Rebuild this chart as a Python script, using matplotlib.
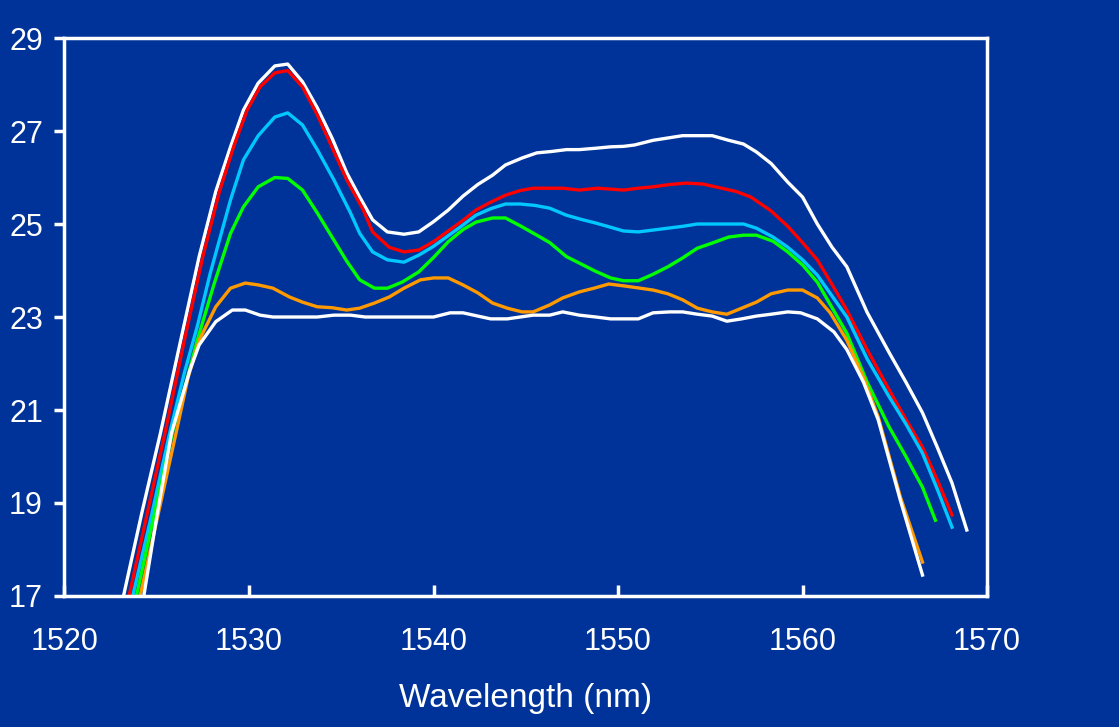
import matplotlib.pyplot as plt

# gain spectra, one trace per pump setting (wavelength in nm, gain in dB)
wl_top = [1523.2, 1524.2, 1525.2, 1526.3, 1527.3, 1528.2, 1529.0, 1529.7, 1530.5, 1531.4,
          1532.1, 1532.9, 1533.7, 1534.5, 1535.3, 1536.0, 1536.7, 1537.5, 1538.4, 1539.2,
          1540.0, 1540.8, 1541.6, 1542.4, 1543.2, 1543.9, 1544.8, 1545.6, 1546.4, 1547.2,
          1547.9, 1548.8, 1549.6, 1550.3, 1550.9, 1551.9, 1552.7, 1553.5, 1554.3, 1555.1,
          1556.0, 1556.8, 1557.5, 1558.3, 1559.2, 1560.0, 1560.8, 1561.6, 1562.4, 1563.5,
          1564.7, 1565.6, 1566.5, 1567.3, 1568.1, 1568.9]
g_top = [17.0, 18.8, 20.5, 22.5, 24.3, 25.7, 26.66, 27.45, 28.03, 28.4,
         28.44, 28.06, 27.5, 26.85, 26.1, 25.58, 25.09, 24.83, 24.78, 24.83,
         25.05, 25.3, 25.6, 25.85, 26.05, 26.27, 26.42, 26.53, 26.56, 26.6,
         26.6, 26.63, 26.66, 26.67, 26.7, 26.8, 26.85, 26.9, 26.9, 26.9,
         26.8, 26.72, 26.55, 26.3, 25.9, 25.58, 25.0, 24.5, 24.08, 23.1,
         22.23, 21.6, 20.94, 20.2, 19.43, 18.42]

wl_red = [1523.5, 1524.5, 1525.5, 1526.5, 1527.5, 1528.4, 1529.2, 1529.9, 1530.6, 1531.4,
          1532.1, 1532.9, 1533.7, 1534.5, 1535.3, 1536.2, 1536.7, 1537.6, 1538.4, 1539.2,
          1540.0, 1540.8, 1541.6, 1542.3, 1543.1, 1543.9, 1544.7, 1545.4, 1546.3, 1547.0,
          1547.9, 1548.9, 1549.6, 1550.3, 1551.1, 1551.9, 1552.8, 1553.7, 1554.6, 1555.5,
          1556.4, 1557.2, 1558.3, 1559.2, 1560.0, 1560.8, 1561.6, 1562.4, 1563.5, 1564.7,
          1565.6, 1566.5, 1567.3, 1568.1]
g_red = [17.0, 18.8, 20.6, 22.5, 24.3, 25.7, 26.7, 27.45, 27.95, 28.25,
         28.3, 27.95, 27.35, 26.65, 25.95, 25.3, 24.83, 24.5, 24.4, 24.44,
         24.62, 24.85, 25.08, 25.3, 25.47, 25.62, 25.72, 25.77, 25.77, 25.77,
         25.73, 25.77, 25.75, 25.73, 25.77, 25.8, 25.85, 25.88, 25.86, 25.78,
         25.7, 25.58, 25.28, 24.95, 24.6, 24.23, 23.7, 23.15, 22.3, 21.43,
         20.8, 20.2, 19.5, 18.74]

wl_cyan = [1523.7, 1524.7, 1525.7, 1526.5, 1527.2, 1527.9, 1528.5, 1529.0, 1529.7, 1530.5,
           1531.4, 1532.1, 1532.9, 1533.7, 1534.6, 1535.5, 1536.0, 1536.7, 1537.5, 1538.4,
           1539.2, 1540.0, 1540.7, 1541.5, 1542.3, 1543.1, 1543.9, 1544.7, 1545.5, 1546.3,
           1547.2, 1548.0, 1548.8, 1549.6, 1550.3, 1551.1, 1551.9, 1552.7, 1553.5, 1554.3,
           1555.1, 1556.0, 1556.8, 1557.5, 1558.4, 1559.2, 1560.0, 1560.8, 1561.6, 1562.4,
           1563.5, 1564.7, 1565.6, 1566.5, 1567.3, 1568.1]
g_cyan = [17.0, 18.7, 20.5, 21.8, 22.8, 23.94, 24.8, 25.52, 26.38, 26.9,
          27.3, 27.39, 27.13, 26.6, 25.95, 25.24, 24.8, 24.4, 24.23, 24.18,
          24.33, 24.52, 24.72, 24.95, 25.19, 25.33, 25.43, 25.43, 25.4, 25.34,
          25.19, 25.1, 25.02, 24.93, 24.85, 24.83, 24.87, 24.91, 24.95, 25.0,
          25.0, 25.0, 25.0, 24.91, 24.72, 24.5, 24.23, 23.9, 23.45, 23.0,
          22.1, 21.28, 20.7, 20.07, 19.3, 18.48]

wl_green = [1523.9, 1524.9, 1525.9, 1526.6, 1527.2, 1528.1, 1529.0, 1529.7, 1530.5, 1531.4,
            1532.1, 1532.9, 1533.7, 1534.5, 1535.3, 1536.0, 1536.8, 1537.5, 1538.3, 1539.2,
            1540.0, 1540.8, 1541.6, 1542.3, 1543.2, 1543.9, 1544.8, 1545.6, 1546.3, 1547.2,
            1547.9, 1548.8, 1549.6, 1550.3, 1551.1, 1551.9, 1552.7, 1553.5, 1554.3, 1555.1,
            1556.0, 1556.8, 1557.5, 1558.4, 1559.2, 1560.0, 1560.8, 1561.6, 1562.4, 1563.5,
            1564.7, 1565.6, 1566.5, 1567.2]
g_green = [17.0, 18.8, 20.6, 21.6, 22.5, 23.7, 24.8, 25.37, 25.8, 26.0,
           25.98, 25.73, 25.24, 24.72, 24.2, 23.8, 23.62, 23.62, 23.75, 23.97,
           24.28, 24.62, 24.88, 25.04, 25.13, 25.13, 24.94, 24.76, 24.6, 24.3,
           24.16, 23.98, 23.84, 23.78, 23.78, 23.92, 24.08, 24.27, 24.48, 24.59,
           24.72, 24.76, 24.76, 24.63, 24.4, 24.12, 23.75, 23.2, 22.65, 21.6,
           20.63, 20.0, 19.34, 18.63]

wl_orange = [1524.1, 1525.1, 1526.1, 1526.7, 1527.3, 1528.2, 1529.0, 1529.8, 1530.5, 1531.3,
             1532.2, 1532.9, 1533.7, 1534.5, 1535.3, 1536.0, 1536.8, 1537.6, 1538.4, 1539.3,
             1540.0, 1540.8, 1541.6, 1542.4, 1543.2, 1544.0, 1544.8, 1545.4, 1546.3, 1547.0,
             1547.9, 1548.7, 1549.5, 1550.3, 1551.2, 1551.9, 1552.7, 1553.5, 1554.3, 1555.1,
             1555.9, 1556.7, 1557.5, 1558.3, 1559.2, 1560.0, 1560.8, 1561.5, 1562.4, 1563.3,
             1564.1, 1565.3, 1566.5]
g_orange = [17.0, 18.8, 20.6, 21.7, 22.5, 23.22, 23.62, 23.73, 23.69, 23.62,
            23.43, 23.32, 23.22, 23.2, 23.15, 23.19, 23.3, 23.43, 23.62, 23.8,
            23.84, 23.84, 23.69, 23.52, 23.3, 23.19, 23.11, 23.11, 23.26, 23.41,
            23.54, 23.62, 23.71, 23.67, 23.62, 23.58, 23.5, 23.37, 23.19, 23.11,
            23.06, 23.19, 23.32, 23.5, 23.58, 23.58, 23.41, 23.09, 22.5, 21.7,
            20.85, 19.13, 17.73]

wl_low = [1524.3, 1525.0, 1525.8, 1526.8, 1527.3, 1528.2, 1529.1, 1529.8, 1530.6, 1531.3,
          1532.2, 1533.0, 1533.7, 1534.6, 1535.5, 1536.3, 1537.2, 1538.2, 1539.1, 1540.0,
          1540.9, 1541.6, 1542.4, 1543.1, 1544.0, 1544.7, 1545.4, 1546.3, 1547.0, 1547.9,
          1548.8, 1549.6, 1550.3, 1551.1, 1551.9, 1552.8, 1553.5, 1554.3, 1555.1, 1555.9,
          1556.7, 1557.5, 1558.3, 1559.2, 1559.9, 1560.8, 1561.7, 1562.4, 1563.3, 1564.1,
          1565.3, 1566.5]
g_low = [17.0, 18.7, 20.5, 21.86, 22.4, 22.9, 23.15, 23.15, 23.04, 23.0,
         23.0, 23.0, 23.0, 23.04, 23.04, 23.0, 23.0, 23.0, 23.0, 23.0,
         23.09, 23.09, 23.02, 22.96, 22.96, 23.0, 23.04, 23.04, 23.11, 23.04,
         23.0, 22.96, 22.96, 22.96, 23.09, 23.11, 23.11, 23.06, 23.02, 22.91,
         22.96, 23.02, 23.06, 23.11, 23.09, 22.96, 22.68, 22.3, 21.6, 20.79,
         19.06, 17.45]

bg = '#003399'
plt.rcParams['font.family'] = ['Liberation Sans', 'DejaVu Sans']

fig = plt.figure(figsize=(11.19, 7.27), dpi=100, facecolor=bg)
ax = fig.add_axes([0.0576, 0.1802, 0.8245, 0.7675])
ax.set_facecolor(bg)

lw = 2.4
ax.plot(wl_top, g_top, color='white', lw=lw)
ax.plot(wl_red, g_red, color='#ff0000', lw=lw)
ax.plot(wl_cyan, g_cyan, color='#00c8ff', lw=lw)
ax.plot(wl_green, g_green, color='#00ff00', lw=lw)
ax.plot(wl_orange, g_orange, color='#ff9900', lw=lw)
ax.plot(wl_low, g_low, color='white', lw=lw)

ax.set_xlim(1520, 1570)
ax.set_ylim(17, 29)
ax.set_xticks(range(1520, 1571, 10))
ax.set_yticks(range(17, 30, 2))

for s in ax.spines.values():
    s.set_color('white')
    s.set_linewidth(2.5)

ax.tick_params(axis='x', direction='in', length=8, width=2.5, colors='white',
               labelsize=22, pad=22)
ax.tick_params(axis='y', direction='out', length=7.5, width=2.5, colors='white',
               labelsize=22, pad=8)

ax.set_xlabel('Wavelength (nm)', color='white', fontsize=24, labelpad=19)

fig.savefig('out.png', dpi=100, facecolor=bg)
